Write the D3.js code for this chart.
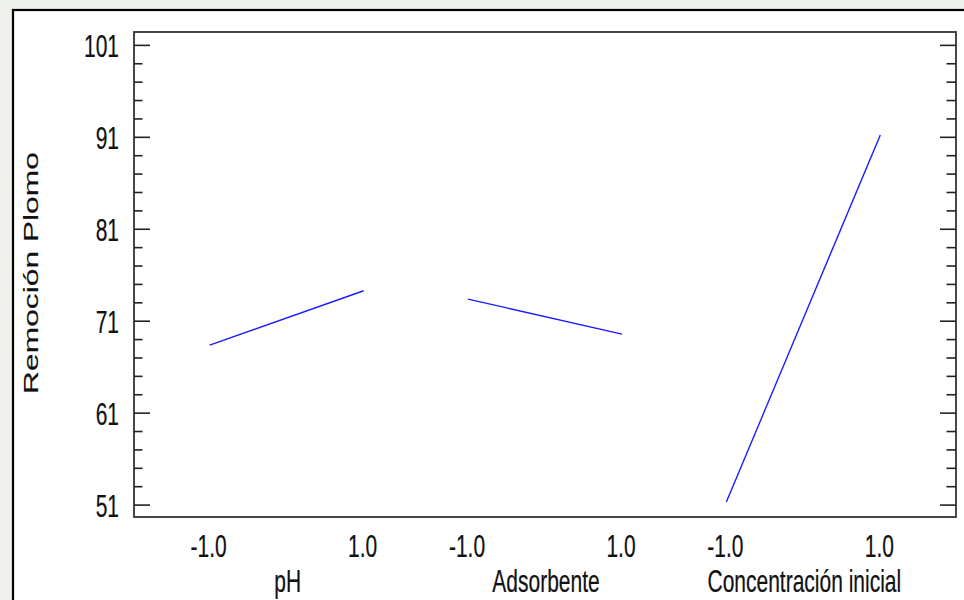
<!DOCTYPE html>
<html>
<head>
<meta charset="utf-8">
<script src="https://cdn.jsdelivr.net/npm/d3@7/dist/d3.min.js"></script>
<style>
  html, body { margin: 0; padding: 0; background: #edf0eb; }
  svg { display: block; }
  text { font-family: "Liberation Sans", Arial, sans-serif; fill: #111; stroke: #111; stroke-width: 0.15px; }
</style>
</head>
<body>
<svg id="chart" width="964" height="600"></svg>
<script>
// Main effects plot for lead removal
const factors = ["pH", "Adsorbente", "Concentración inicial"];
const levels = [-1, 1];
const lowValues = [68.35, 73.35, 51.28];   // response at level -1
const highValues = [74.26, 69.54, 91.2];   // response at level +1
const majorTicks = [51, 61, 71, 81, 91, 101];
const minorTicks = [53, 55, 57, 59, 63, 65, 67, 69, 73, 75, 77, 79, 83, 85, 87, 89, 93, 95, 97, 99];
const yTitle = "Remoción Plomo";

const svg = d3.select("#chart");
const plot = { left: 134, right: 956, top: 32, bottom: 517 };
const stretch = 1.52;
const fmtLevel = v => d3.format(".1f")(v).replace("\u2212", "-");

// outer frame
svg.append("rect")
  .attr("x", 13).attr("y", 10).attr("width", 1000).attr("height", 700)
  .attr("fill", "#fff").attr("stroke", "#000").attr("stroke-width", 2.2);

const y = d3.scaleLinear().domain([49.65, 102.4]).range([plot.bottom, plot.top]);

const band = d3.scaleBand().domain(factors)
  .range([plot.left, plot.right]).paddingInner(0).paddingOuter(0.091);
const step = band.step();
const level = d3.scaleLinear().domain([-1, 1]).range([-0.298 * step, 0.298 * step]);
const xPos = (f, l) => band(f) + step / 2 + level(l);

// plot box
svg.append("rect")
  .attr("x", plot.left).attr("y", plot.top)
  .attr("width", plot.right - plot.left).attr("height", plot.bottom - plot.top)
  .attr("fill", "#fff").attr("stroke", "#333").attr("stroke-width", 1.8);

function styleTicks(g) {
  g.select(".domain").remove();
  g.selectAll(".tick line").attr("stroke", "#222").attr("stroke-width", 1.6);
}

// left axis: ticks pointing inward
const gLeft = svg.append("g").attr("transform", `translate(${plot.left},0)`);
gLeft.call(d3.axisLeft(y).tickValues(majorTicks).tickSizeInner(-16).tickSizeOuter(0)
  .tickFormat(d3.format("d")).tickPadding(15));
styleTicks(gLeft);
gLeft.selectAll(".tick text")
  .attr("font-size", 21).attr("dy", null).attr("y", 0)
  .attr("font-family", "Liberation Sans, Arial, sans-serif")
  .attr("transform", `translate(0,11.5) scale(1,${stretch})`);

const gLeftMinor = svg.append("g").attr("transform", `translate(${plot.left},0)`);
gLeftMinor.call(d3.axisLeft(y).tickValues(minorTicks).tickSizeInner(-8.5).tickSizeOuter(0).tickFormat(""));
styleTicks(gLeftMinor);

// right axis: mirrored inward ticks, no labels
const gRight = svg.append("g").attr("transform", `translate(${plot.right},0)`);
gRight.call(d3.axisRight(y).tickValues(majorTicks).tickSizeInner(-16).tickSizeOuter(0).tickFormat(""));
styleTicks(gRight);

const gRightMinor = svg.append("g").attr("transform", `translate(${plot.right},0)`);
gRightMinor.call(d3.axisRight(y).tickValues(minorTicks).tickSizeInner(-9.5).tickSizeOuter(0).tickFormat(""));
styleTicks(gRightMinor);

// level labels under each factor
const levelLabels = [];
factors.forEach(f => levels.forEach(l => levelLabels.push({ f, l })));
svg.append("g").selectAll("text").data(levelLabels).join("text")
  .attr("text-anchor", "middle").attr("font-size", 21)
  .attr("transform", d => `translate(${xPos(d.f, d.l) - 1},557) scale(1,${stretch})`)
  .text(d => fmtLevel(d.l));

// factor names
svg.append("g").selectAll("text").data(factors).join("text")
  .attr("text-anchor", "middle").attr("font-size", 21)
  .attr("transform", f => `translate(${band(f) + step / 2 + 1},592) scale(1,${stretch})`)
  .text(f => f);

// y-axis title
svg.append("text")
  .attr("text-anchor", "middle").attr("font-size", 20.5)
  .attr("transform", `translate(38,273) rotate(-90) scale(1.55,1)`)
  .text(yTitle);

// effect lines
const line = d3.line().x(d => d[0]).y(d => y(d[1]));
svg.append("g").selectAll("path").data(factors).join("path")
  .attr("d", (f, i) => line([[xPos(f, -1), lowValues[i]], [xPos(f, 1), highValues[i]]]))
  .attr("fill", "none").attr("stroke", "#1a1aff").attr("stroke-width", 1.4);
</script>
</body>
</html>
